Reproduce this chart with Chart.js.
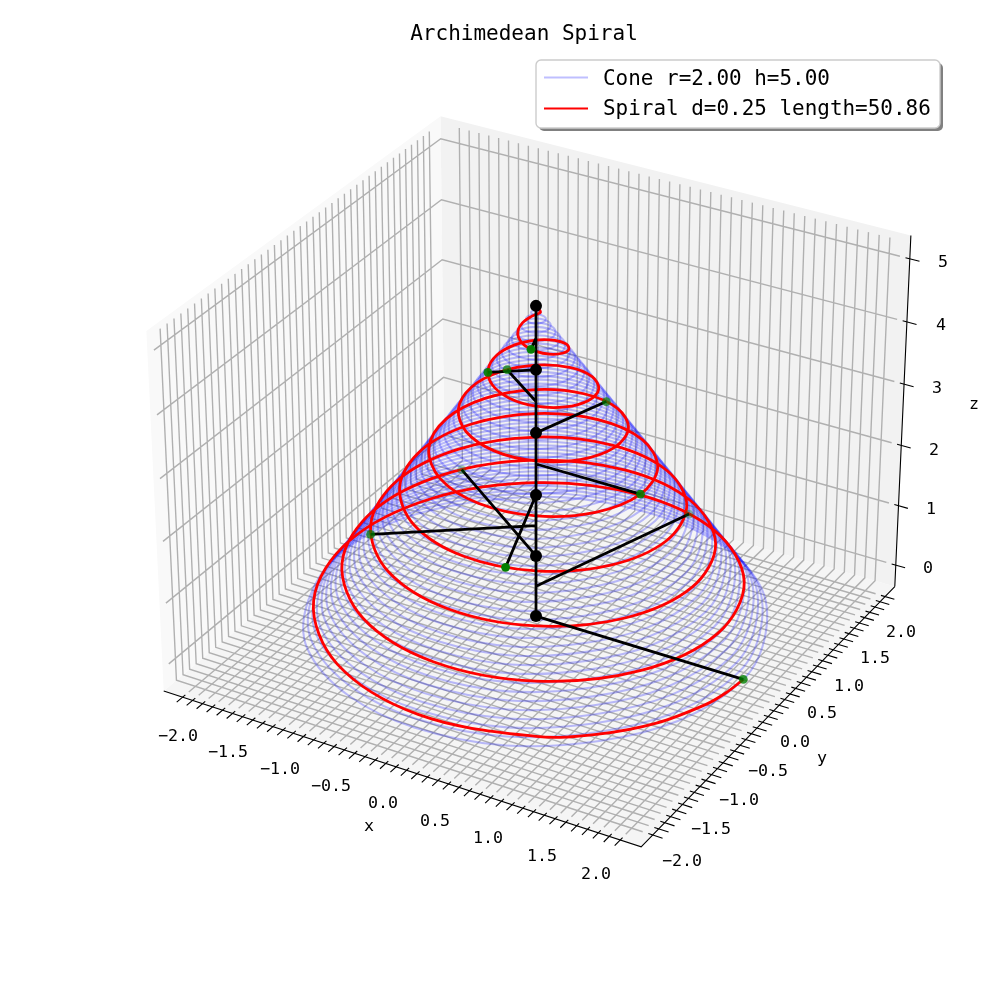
<!DOCTYPE html>
<html><head><meta charset="utf-8"><style>html,body{margin:0;padding:0;background:#fff}canvas{display:block}</style>
<script src="https://cdn.jsdelivr.net/npm/chart.js@4/dist/chart.umd.js"></script></head>
<body><canvas id="c" width="1000" height="1000" style="width:1000px;height:1000px"></canvas>
<script>
const titleText="Archimedean Spiral";
const legendLabels=["Cone r=2.00 h=5.00","Spiral d=0.25 length=50.86"];
const axisTicks=[-2.1,-2,-1.9,-1.8,-1.7,-1.6,-1.5,-1.4,-1.3,-1.2,-1.1,-1,-0.9,-0.8,-0.7,-0.6,-0.5,-0.4,-0.3,-0.2,-0.1,0,0.1,0.2,0.3,0.4,0.5,0.6,0.7,0.8,0.9,1,1.1,1.2,1.3,1.4,1.5,1.6,1.7,1.8,1.9,2,2.1];
const zTicks=[0,1,2,3,4,5];
const xyTickLabels=["\u22122.0","\u22121.5","\u22121.0","\u22120.5","0.0","0.5","1.0","1.5","2.0"];
const zTickLabels=["0","1","2","3","4","5"];
const spiralX=[2,1.978,1.922,1.714,1.392,0.979,0,-0.958,-1.642,-1.875,-1.606,-0.917,0,0.896,1.534,1.75,1.497,0.854,0,-0.833,-1.425,-1.625,-1.389,-0.792,0,0.771,1.317,1.5,1.281,0.729,0,-0.708,-1.209,-1.375,-1.173,-0.667,0,0.646,1.1,1.25,1.065,0.604,0,-0.583,-0.992,-1.125,-0.956,-0.542,0,0.521,0.884,1,0.848,0.479,0,-0.458,-0.776,-0.875,-0.74,-0.417,0,0.396,0.668,0.75,0.631,0.354,0,-0.333,-0.559,-0.625,-0.523,-0.292,0,0.271,0.451,0.5,0.415,0.229,0,-0.208,-0.343,-0.375,-0.307,-0.167,0,0.146,0.235,0.25,0.198,0.104,0,-0.083,-0.126,-0.125,-0.09,-0.042,0,0.021,0.018,0];
const spiralY=[0,-0.26,-0.515,-0.99,-1.392,-1.696,-1.938,-1.66,-0.948,0,0.927,1.588,1.813,1.552,0.885,0,-0.865,-1.479,-1.688,-1.443,-0.823,0,0.802,1.371,1.563,1.335,0.76,0,-0.74,-1.263,-1.438,-1.227,-0.698,0,0.677,1.155,1.313,1.119,0.635,0,-0.615,-1.046,-1.188,-1.01,-0.573,0,0.552,0.938,1.063,0.902,0.51,0,-0.49,-0.83,-0.938,-0.794,-0.448,0,0.427,0.722,0.813,0.686,0.385,0,-0.365,-0.613,-0.688,-0.577,-0.323,0,0.302,0.505,0.563,0.469,0.26,0,-0.24,-0.397,-0.438,-0.361,-0.198,0,0.177,0.289,0.313,0.253,0.135,0,-0.115,-0.18,-0.188,-0.144,-0.073,0,0.052,0.072,0.063,0.036,0.01,0];
const spiralZ=[0,0.013,0.026,0.052,0.078,0.104,0.156,0.208,0.26,0.3125,0.365,0.417,0.469,0.521,0.573,0.625,0.677,0.729,0.781,0.833,0.885,0.9375,0.99,1.042,1.094,1.146,1.198,1.25,1.302,1.354,1.406,1.458,1.51,1.5625,1.615,1.667,1.719,1.771,1.823,1.875,1.927,1.979,2.031,2.083,2.135,2.188,2.24,2.292,2.344,2.396,2.448,2.5,2.552,2.604,2.656,2.708,2.76,2.8125,2.865,2.917,2.969,3.021,3.073,3.125,3.177,3.229,3.281,3.333,3.385,3.4375,3.49,3.542,3.594,3.646,3.698,3.75,3.802,3.854,3.906,3.958,4.01,4.0625,4.115,4.167,4.219,4.271,4.323,4.375,4.427,4.479,4.531,4.583,4.635,4.6875,4.74,4.792,4.844,4.896,4.948,5];
const markerX=[2,0.556,-1.294,-1.133,0.371,1,0.247,-0.485,-0.324,0.062,0];
const markerY=[0,1.712,0.94,-0.823,-1.141,0,0.761,0.353,-0.235,-0.19,0];
const markerZ=[0,0.5,1,1.5,2,2.5,3,3.5,4,4.5,5];
const markerAlpha=[0.8,0.32,0.3,0.72,1,0.88,0.68,0.72,0.9,0.97,0.97];
const axisDotZ=[0,1,2,3,4,5];
const coneRingZ=[0,0.102,0.204,0.306,0.408,0.51,0.612,0.714,0.816,0.918,1.02,1.122,1.224,1.327,1.429,1.531,1.633,1.735,1.837,1.939,2.041,2.143,2.245,2.347,2.449,2.551,2.653,2.755,2.857,2.959,3.061,3.163,3.265,3.367,3.469,3.571,3.673,3.776,3.878,3.98,4.082,4.184,4.286,4.388,4.49,4.592,4.694,4.796,4.898];
const coneRingX=[
[2,1.414,0,-1.414,-2,-1.414,0,1.414],
[1.959,1.385,0,-1.385,-1.959,-1.385,0,1.385],
[1.918,1.356,0,-1.356,-1.918,-1.356,0,1.356],
[1.878,1.328,0,-1.328,-1.878,-1.328,0,1.328],
[1.837,1.299,0,-1.299,-1.837,-1.299,0,1.299],
[1.796,1.27,0,-1.27,-1.796,-1.27,0,1.27],
[1.755,1.241,0,-1.241,-1.755,-1.241,0,1.241],
[1.714,1.212,0,-1.212,-1.714,-1.212,0,1.212],
[1.673,1.183,0,-1.183,-1.673,-1.183,0,1.183],
[1.633,1.155,0,-1.155,-1.633,-1.155,0,1.155],
[1.592,1.126,0,-1.126,-1.592,-1.126,0,1.126],
[1.551,1.097,0,-1.097,-1.551,-1.097,0,1.097],
[1.51,1.068,0,-1.068,-1.51,-1.068,0,1.068],
[1.469,1.039,0,-1.039,-1.469,-1.039,0,1.039],
[1.429,1.01,0,-1.01,-1.429,-1.01,0,1.01],
[1.388,0.981,0,-0.981,-1.388,-0.981,0,0.981],
[1.347,0.952,0,-0.952,-1.347,-0.952,0,0.952],
[1.306,0.923,0,-0.923,-1.306,-0.923,0,0.923],
[1.265,0.895,0,-0.895,-1.265,-0.895,0,0.895],
[1.224,0.866,0,-0.866,-1.224,-0.866,0,0.866],
[1.184,0.837,0,-0.837,-1.184,-0.837,0,0.837],
[1.143,0.808,0,-0.808,-1.143,-0.808,0,0.808],
[1.102,0.779,0,-0.779,-1.102,-0.779,0,0.779],
[1.061,0.75,0,-0.75,-1.061,-0.75,0,0.75],
[1.02,0.722,0,-0.722,-1.02,-0.722,0,0.722],
[0.98,0.693,0,-0.693,-0.98,-0.693,0,0.693],
[0.939,0.664,0,-0.664,-0.939,-0.664,0,0.664],
[0.898,0.635,0,-0.635,-0.898,-0.635,0,0.635],
[0.857,0.606,0,-0.606,-0.857,-0.606,0,0.606],
[0.816,0.577,0,-0.577,-0.816,-0.577,0,0.577],
[0.776,0.548,0,-0.548,-0.776,-0.548,0,0.548],
[0.735,0.52,0,-0.52,-0.735,-0.52,0,0.52],
[0.694,0.491,0,-0.491,-0.694,-0.491,0,0.491],
[0.653,0.462,0,-0.462,-0.653,-0.462,0,0.462],
[0.612,0.433,0,-0.433,-0.612,-0.433,0,0.433],
[0.571,0.404,0,-0.404,-0.571,-0.404,0,0.404],
[0.531,0.375,0,-0.375,-0.531,-0.375,0,0.375],
[0.49,0.346,0,-0.346,-0.49,-0.346,0,0.346],
[0.449,0.317,0,-0.317,-0.449,-0.317,0,0.317],
[0.408,0.289,0,-0.289,-0.408,-0.289,0,0.289],
[0.367,0.26,0,-0.26,-0.367,-0.26,0,0.26],
[0.327,0.231,0,-0.231,-0.327,-0.231,0,0.231],
[0.286,0.202,0,-0.202,-0.286,-0.202,0,0.202],
[0.245,0.173,0,-0.173,-0.245,-0.173,0,0.173],
[0.204,0.144,0,-0.144,-0.204,-0.144,0,0.144],
[0.163,0.115,0,-0.115,-0.163,-0.115,0,0.115],
[0.122,0.087,0,-0.087,-0.122,-0.087,0,0.087],
[0.082,0.058,0,-0.058,-0.082,-0.058,0,0.058],
[0.041,0.029,0,-0.029,-0.041,-0.029,0,0.029]];
const coneRingY=[
[0,1.414,2,1.414,0,-1.414,-2,-1.414],
[0,1.385,1.959,1.385,0,-1.385,-1.959,-1.385],
[0,1.356,1.918,1.356,0,-1.356,-1.918,-1.356],
[0,1.328,1.878,1.328,0,-1.328,-1.878,-1.328],
[0,1.299,1.837,1.299,0,-1.299,-1.837,-1.299],
[0,1.27,1.796,1.27,0,-1.27,-1.796,-1.27],
[0,1.241,1.755,1.241,0,-1.241,-1.755,-1.241],
[0,1.212,1.714,1.212,0,-1.212,-1.714,-1.212],
[0,1.183,1.673,1.183,0,-1.183,-1.673,-1.183],
[0,1.155,1.633,1.155,0,-1.155,-1.633,-1.155],
[0,1.126,1.592,1.126,0,-1.126,-1.592,-1.126],
[0,1.097,1.551,1.097,0,-1.097,-1.551,-1.097],
[0,1.068,1.51,1.068,0,-1.068,-1.51,-1.068],
[0,1.039,1.469,1.039,0,-1.039,-1.469,-1.039],
[0,1.01,1.429,1.01,0,-1.01,-1.429,-1.01],
[0,0.981,1.388,0.981,0,-0.981,-1.388,-0.981],
[0,0.952,1.347,0.952,0,-0.952,-1.347,-0.952],
[0,0.923,1.306,0.923,0,-0.923,-1.306,-0.923],
[0,0.895,1.265,0.895,0,-0.895,-1.265,-0.895],
[0,0.866,1.224,0.866,0,-0.866,-1.224,-0.866],
[0,0.837,1.184,0.837,0,-0.837,-1.184,-0.837],
[0,0.808,1.143,0.808,0,-0.808,-1.143,-0.808],
[0,0.779,1.102,0.779,0,-0.779,-1.102,-0.779],
[0,0.75,1.061,0.75,0,-0.75,-1.061,-0.75],
[0,0.722,1.02,0.722,0,-0.722,-1.02,-0.722],
[0,0.693,0.98,0.693,0,-0.693,-0.98,-0.693],
[0,0.664,0.939,0.664,0,-0.664,-0.939,-0.664],
[0,0.635,0.898,0.635,0,-0.635,-0.898,-0.635],
[0,0.606,0.857,0.606,0,-0.606,-0.857,-0.606],
[0,0.577,0.816,0.577,0,-0.577,-0.816,-0.577],
[0,0.548,0.776,0.548,0,-0.548,-0.776,-0.548],
[0,0.52,0.735,0.52,0,-0.52,-0.735,-0.52],
[0,0.491,0.694,0.491,0,-0.491,-0.694,-0.491],
[0,0.462,0.653,0.462,0,-0.462,-0.653,-0.462],
[0,0.433,0.612,0.433,0,-0.433,-0.612,-0.433],
[0,0.404,0.571,0.404,0,-0.404,-0.571,-0.404],
[0,0.375,0.531,0.375,0,-0.375,-0.531,-0.375],
[0,0.346,0.49,0.346,0,-0.346,-0.49,-0.346],
[0,0.317,0.449,0.317,0,-0.317,-0.449,-0.317],
[0,0.289,0.408,0.289,0,-0.289,-0.408,-0.289],
[0,0.26,0.367,0.26,0,-0.26,-0.367,-0.26],
[0,0.231,0.327,0.231,0,-0.231,-0.327,-0.231],
[0,0.202,0.286,0.202,0,-0.202,-0.286,-0.202],
[0,0.173,0.245,0.173,0,-0.173,-0.245,-0.173],
[0,0.144,0.204,0.144,0,-0.144,-0.204,-0.144],
[0,0.115,0.163,0.115,0,-0.115,-0.163,-0.115],
[0,0.087,0.122,0.087,0,-0.087,-0.122,-0.087],
[0,0.058,0.082,0.058,0,-0.058,-0.082,-0.058],
[0,0.029,0.041,0.029,0,-0.029,-0.041,-0.029]];

// view: elevation 30, azimuth -60
const L=2.2917,LIM=2.2,ZB=-0.3646,ZT=5.3646,ZL=5.25;
const UNIT=0.2597,ZUNIT=0.15585,ZC=2.5,DIST=10;
function proj(x,y,z){const a=x*UNIT,b=y*UNIT,c=(z-ZC)*ZUNIT;
 const X=0.866025*a+0.5*b,Y=-0.25*a+0.433013*b+0.866025*c,W=0.433013*a-0.75*b+0.5*c;
 return {x:X/(DIST-W),y:Y/(DIST-W)};}
const GAP={x:NaN,y:NaN};
function poly(pts){return pts.map(p=>proj(p[0],p[1],p[2]));}
function lines(list){const o=[];list.forEach(l=>{o.push(...poly(l));o.push(GAP);});return o;}

const gridPts=[];
axisTicks.forEach(v=>{gridPts.push([[v,-LIM,ZB],[v,L,ZB],[v,L,ZL]]);gridPts.push([[LIM,v,ZB],[-L,v,ZB],[-L,v,ZL]]);});
zTicks.forEach(v=>{gridPts.push([[LIM,L,v],[-L,L,v],[-L,-LIM,v]]);});
const tickPts=[];
axisTicks.forEach(v=>{tickPts.push([[v,-L+0.04,ZB],[v,-L-0.09,ZB]]);tickPts.push([[L-0.04,v,ZB],[L+0.09,v,ZB]]);});
zTicks.forEach(v=>{tickPts.push([[L-0.04,L,v],[L+0.09,L,v]]);});

const base={showLine:true,pointRadius:0,pointHoverRadius:0,fill:false};
const datasets=[];
function add(d,order){datasets.push(Object.assign({},base,d,{order}));}
coneRingZ.forEach((z,k)=>{
 add({data:coneRingX[k].map((x,i)=>proj(x,coneRingY[k][i],z)),borderColor:'rgba(0,0,255,0.25)',borderWidth:2.08,tension:0.375,ring:true},50);});
add({data:poly([[-L,-L,ZB],[-L,L,ZB],[-L,L,ZT],[-L,-L,ZT],[-L,-L,ZB]]),fill:'shape',backgroundColor:'#f9f9f9',borderWidth:0,borderColor:'transparent'},100);
add({data:poly([[-L,L,ZB],[L,L,ZB],[L,L,ZT],[-L,L,ZT],[-L,L,ZB]]),fill:'shape',backgroundColor:'#f2f2f2',borderWidth:0,borderColor:'transparent'},100);
add({data:poly([[-L,-L,ZB],[L,-L,ZB],[L,L,ZB],[-L,L,ZB],[-L,-L,ZB]]),fill:'shape',backgroundColor:'#f5f5f5',borderWidth:0,borderColor:'transparent'},100);
add({data:lines(gridPts),borderColor:'#b0b0b0',borderWidth:1.39},90);
add({data:lines([[[-L,-L,ZB],[L,-L,ZB],[L,L,ZB]],[[L,L,ZB],[L,L,ZT]]]),borderColor:'#000',borderWidth:1.11},80);
add({data:lines(tickPts),borderColor:'#000',borderWidth:1.11},80);
add({data:spiralX.map((x,i)=>proj(x,spiralY[i],spiralZ[i])),borderColor:'#ff0000',borderWidth:2.78,tension:0.351},40);
const armPts=markerX.map((x,i)=>[[0,0,markerZ[i]],[x,markerY[i],markerZ[i]]]);
add({data:lines([[[0,0,0],[0,0,5]],...armPts]),borderColor:'#000',borderWidth:2.78},30);
add({data:markerX.map((x,i)=>proj(x,markerY[i],markerZ[i])),showLine:false,pointRadius:4.4,borderWidth:0,
 pointBackgroundColor:markerAlpha.map(a=>'rgba(0,128,0,'+a+')'),pointBorderWidth:0},20);
add({data:axisDotZ.map(z=>proj(0,0,z)),showLine:false,pointRadius:6,pointBackgroundColor:'#000',pointBorderWidth:0},10);

const MONO='"DejaVu Sans Mono"';
const xTickLabelPos=[[178,735],[228,751],[280,768],[331,785],[383,802],[435,820],[488,837],[542,855],[596,873]];
const yTickLabelPos=[[682,860],[711,828],[739,799],[768,770],[795,741],[822,712],[849,685],[875,657],[901,631]];
const zTickLabelPos=[[928,567],[931,508],[934,449],[937,387],[941,324],[943,261]];
const textPlugin={id:'text3d',
 afterDatasetsUpdate(chart){chart.data.datasets.forEach((d,i)=>{if(d.ring){const l=chart.getDatasetMeta(i).dataset;l._loop=true;l._fullLoop=true;l._pointsUpdated=false;delete l._segments;delete l._path;}});},
 afterDraw(chart){const c=chart.ctx;c.save();c.textAlign='center';c.textBaseline='middle';c.fillStyle='#000';
 c.font='21px '+MONO;c.fillText(titleText,524,35);
 c.font='16.67px '+MONO;
 xyTickLabels.forEach((t,i)=>{c.fillText(t,xTickLabelPos[i][0],xTickLabelPos[i][1]+1.5);c.fillText(t,yTickLabelPos[i][0],yTickLabelPos[i][1]+1.5);});
 zTickLabels.forEach((t,i)=>c.fillText(t,zTickLabelPos[i][0],zTickLabelPos[i][1]+1.5));
 c.fillText('x',369,827);c.fillText('y',822,759);c.fillText('z',974,405);
 // legend frame
 const bx=536,by=60,bw=404,bh=68,rad=5;
 function rr(x,y){c.beginPath();c.roundRect(x,y,bw,bh,rad);}
 rr(bx+3,by+3);c.fillStyle='rgba(128,128,128,1)';c.fill();
 rr(bx,by);c.fillStyle='#fff';c.fill();c.strokeStyle='#cccccc';c.lineWidth=1.39;c.stroke();
 c.lineWidth=2.08;c.strokeStyle='rgba(0,0,255,0.25)';c.beginPath();c.moveTo(544,77.5);c.lineTo(588,77.5);c.stroke();
 c.strokeStyle='#ff0000';c.beginPath();c.moveTo(544,108.5);c.lineTo(588,108.5);c.stroke();
 c.fillStyle='#000';c.textAlign='left';c.font='20.95px '+MONO;
 c.fillText(legendLabels[0],603,80);c.fillText(legendLabels[1],603,110);
 c.restore();}};
new Chart(document.getElementById('c'),{type:'scatter',data:{datasets},plugins:[textPlugin],options:{
 responsive:false,animation:false,devicePixelRatio:1,layout:{padding:0,autoPadding:false},
 plugins:{legend:{display:false},title:{display:false},tooltip:{enabled:false}},
 elements:{line:{capBezierPoints:false}},
 scales:{x:{type:'linear',display:false,min:-536/4595,max:464/4595},y:{type:'linear',display:false,min:-536/4595,max:464/4595}}}});
</script></body></html>
